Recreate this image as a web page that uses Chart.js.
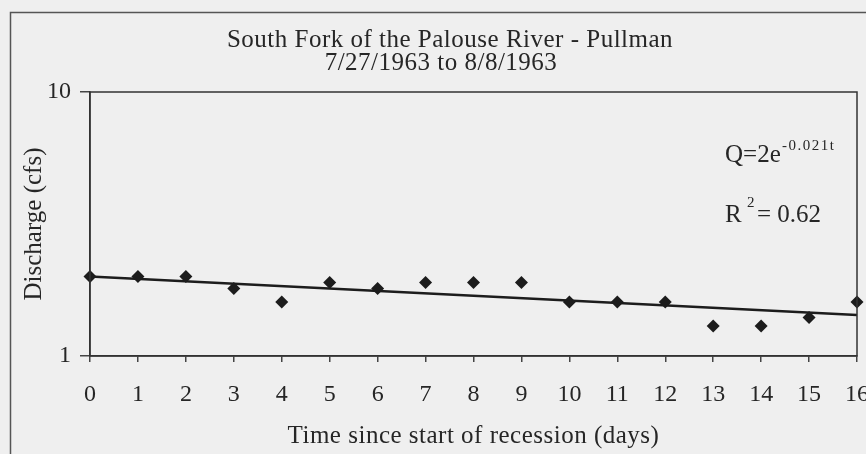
<!DOCTYPE html>
<html>
<head>
<meta charset="utf-8">
<script src="https://cdn.jsdelivr.net/npm/chart.js@4/dist/chart.umd.min.js"></script>
<style>
  html, body { margin: 0; padding: 0; background: #efefef; }
  #wrap { width: 866px; height: 454px; }
</style>
</head>
<body>
<div id="wrap"><canvas id="recessionChart" width="866" height="454"></canvas></div>
<script>
// Dati
const days = [0, 1, 2, 3, 4, 5, 6, 7, 8, 9, 10, 11, 12, 13, 14, 15, 16];
const discharge = [2.0, 2.0, 2.0, 1.8, 1.6, 1.9, 1.8, 1.9, 1.9, 1.9, 1.6, 1.6, 1.6, 1.3, 1.3, 1.4, 1.6];
const trendDays = [0, 16];
const trendDischarge = [2.0, 1.43];
const yTicks = [1, 10];

const titleLines = ['South Fork of the Palouse River - Pullman', '7/27/1963 to 8/8/1963'];
const xTitle = 'Time since start of recession (days)';
const yTitle = 'Discharge (cfs)';

const serif = "'Liberation Serif', 'Times New Roman', serif";
const ink = '#262626';

function drawText(ctx, text, x, y, size, align, spacing) {
    ctx.font = size + 'px ' + serif;
    ctx.letterSpacing = (spacing || 0) + 'px';
    ctx.textAlign = align || 'left';
    ctx.textBaseline = 'alphabetic';
    ctx.fillStyle = ink;
    ctx.fillText(text, x, y);
    ctx.letterSpacing = '0px';
}

const decorPlugin = {
    id: 'decor',
    beforeDraw(chart) {
        const ctx = chart.ctx;
        ctx.save();
        ctx.fillStyle = '#efefef';
        ctx.fillRect(0, 0, chart.width, chart.height);
        // cornice esterna
        ctx.strokeStyle = '#555';
        ctx.lineWidth = 1.5;
        ctx.beginPath();
        ctx.moveTo(10.5, chart.height + 5);
        ctx.lineTo(10.5, 12.5);
        ctx.lineTo(chart.width + 5, 12.5);
        ctx.stroke();
        ctx.restore();
    },
    afterDatasetsDraw(chart) {
        const ctx = chart.ctx;
        const a = chart.chartArea;
        ctx.save();
        ctx.strokeStyle = '#333';
        ctx.lineWidth = 1.5;
        ctx.strokeRect(a.left, a.top, a.right - a.left, a.bottom - a.top);

        // titolo
        drawText(ctx, titleLines[0], 450, 47, 25, 'center', 0.5);
        drawText(ctx, titleLines[1], 441, 70, 25, 'center', 0.5);

        // titoli degli assi
        drawText(ctx, xTitle, (a.left + a.right) / 2, 443, 25, 'center', 0.5);
        ctx.save();
        ctx.translate(41, (a.top + a.bottom) / 2);
        ctx.rotate(-Math.PI / 2);
        drawText(ctx, yTitle, 0, 0, 25, 'center', 0);
        ctx.restore();

        // equazione e R2
        drawText(ctx, 'Q=2e', 725, 162, 25, 'left', 0);
        drawText(ctx, '-0.021t', 782, 150, 15, 'left', 1.5);
        drawText(ctx, 'R', 725, 222, 25, 'left', 0);
        drawText(ctx, '2', 747, 207, 15, 'left', 0);
        drawText(ctx, '= 0.62', 757, 222, 25, 'left', 0);
        ctx.restore();
    }
};

const ctx = document.getElementById('recessionChart').getContext('2d');
new Chart(ctx, {
    type: 'scatter',
    data: {
        datasets: [
            {
                label: 'Discharge',
                data: days.map((d, i) => ({ x: d, y: discharge[i] })),
                pointStyle: 'rectRot',
                pointRadius: 6.5,
                pointHoverRadius: 6.5,
                backgroundColor: '#1c1c1c',
                borderColor: '#1c1c1c',
                borderWidth: 0,
                clip: false,
                order: 1
            },
            {
                label: 'Trend',
                type: 'line',
                data: trendDays.map((d, i) => ({ x: d, y: trendDischarge[i] })),
                borderColor: '#1c1c1c',
                borderWidth: 2.5,
                pointRadius: 0,
                fill: false,
                clip: false,
                order: 2
            }
        ]
    },
    options: {
        responsive: false,
        animation: false,
        events: [],
        layout: {
            padding: { top: 92, right: 9, left: 0, bottom: 0 }
        },
        scales: {
            x: {
                type: 'linear',
                min: 0,
                max: 16,
                afterBuildTicks: scale => {
                    scale.ticks = days.map(d => ({ value: d }));
                },
                afterFit: scale => {
                    scale.height = 98;
                    scale.paddingLeft = 0;
                    scale.paddingRight = 0;
                },
                ticks: {
                    autoSkip: false,
                    maxRotation: 0,
                    padding: 18,
                    color: ink,
                    font: { family: serif, size: 24 }
                },
                grid: {
                    drawOnChartArea: false,
                    tickLength: 6,
                    color: '#444',
                    lineWidth: 1.5
                },
                border: { color: '#333', width: 1.5 }
            },
            y: {
                type: 'logarithmic',
                min: 1,
                max: 10,
                afterBuildTicks: scale => {
                    scale.ticks = yTicks.map(v => ({ value: v }));
                },
                afterFit: scale => {
                    scale.width = 90;
                    scale.paddingTop = 0;
                    scale.paddingBottom = 0;
                },
                ticks: {
                    padding: 9,
                    color: ink,
                    font: { family: serif, size: 24 },
                    callback: value => String(value)
                },
                grid: {
                    drawOnChartArea: false,
                    tickLength: 10,
                    color: '#444',
                    lineWidth: 1.5
                },
                border: { color: '#333', width: 1.5 }
            }
        },
        plugins: {
            legend: { display: false },
            title: { display: false },
            tooltip: { enabled: false }
        }
    },
    plugins: [decorPlugin]
});
</script>
</body>
</html>
